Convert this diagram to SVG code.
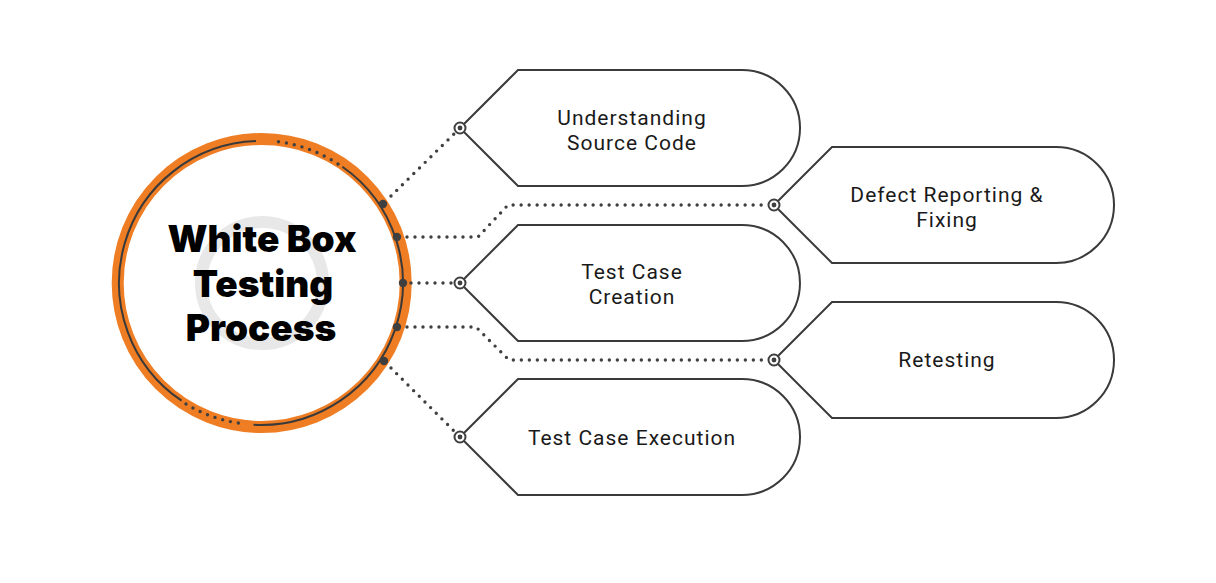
<svg xmlns="http://www.w3.org/2000/svg" width="1216" height="583" viewBox="0 0 1216 583">
<style>
.node{fill:#fff;stroke:#3a3a3a;stroke-width:2}
.lbl{font-family:Roboto,"Liberation Sans",sans-serif;font-size:21px;fill:#1a1a1a;text-anchor:middle;letter-spacing:1px}
.title{font-family:Inter,"Liberation Sans",sans-serif;font-weight:900;font-size:37px;fill:#000;text-anchor:middle}
.dots{fill:none;stroke:#3f3f3f;stroke-width:3.4;stroke-linecap:round;stroke-dasharray:0 8}
.anchor{fill:#fff;stroke:#3f3f3f;stroke-width:2}
.adot{fill:#3f3f3f}
</style>
<rect width="1216" height="583" fill="#fff"/>
<g id="hub">
<circle cx="261.7" cy="283" r="144" fill="#fff" stroke="#ee7d24" stroke-width="12"/>
<circle cx="262" cy="283" r="61" fill="none" stroke="#e8e8e8" stroke-width="12"/>
<path d="M256,141.1 A142,142 0 0 0 181.6,400.7" fill="none" stroke="#3a3a3a" stroke-width="2"/>
<path d="M253.6,424.8 A142,142 0 0 0 342.4,166.7" fill="none" stroke="#3a3a3a" stroke-width="2"/>
<path d="M186,404 A142,142 0 0 0 246,424" class="dots" stroke-width="2.6" stroke-dasharray="0 6"/>
<path d="M338,164 A142,142 0 0 0 272,141" class="dots" stroke-width="2.6" stroke-dasharray="0 6"/>
<text class="title" x="262" y="252">White Box</text>
<text class="title" x="263" y="297">Testing</text>
<text class="title" x="261" y="341">Process</text>
</g>
<g id="connectors">
<path class="dots" d="M391,196 L455,133"/>
<path class="dots" d="M407,237 L478,237 L508,205 L766,205"/>
<path class="dots" d="M411,283 L453,283"/>
<path class="dots" d="M407,327 L476,327 L509,360 L766,360"/>
<path class="dots" d="M391,368 L455,432"/>
<g class="adot">
<circle cx="383" cy="204" r="4.2"/>
<circle cx="397" cy="237" r="4.2"/>
<circle cx="403" cy="283" r="4.2"/>
<circle cx="397" cy="327" r="4.2"/>
<circle cx="384" cy="361" r="4.2"/>
</g>
</g>
<g id="node-understanding">
<path class="node" d="M460,128 L518,70 L742,70 A58,58 0 0 1 742,186 L518,186 Z"/>
<circle class="anchor" cx="460" cy="128" r="5.5"/><circle class="adot" cx="460" cy="128" r="2.4"/>
<text class="lbl" x="632" y="125">Understanding</text>
<text class="lbl" x="632" y="150">Source Code</text>
</g>
<g id="node-defect">
<path class="node" d="M774,205 L832,147 L1056,147 A58,58 0 0 1 1056,263 L832,263 Z"/>
<circle class="anchor" cx="774" cy="205" r="5.5"/><circle class="adot" cx="774" cy="205" r="2.4"/>
<text class="lbl" x="947" y="202">Defect Reporting &amp;</text>
<text class="lbl" x="947" y="227">Fixing</text>
</g>
<g id="node-creation">
<path class="node" d="M460,283 L518,225 L742,225 A58,58 0 0 1 742,341 L518,341 Z"/>
<circle class="anchor" cx="460" cy="283" r="5.5"/><circle class="adot" cx="460" cy="283" r="2.4"/>
<text class="lbl" x="632" y="279">Test Case</text>
<text class="lbl" x="632" y="304">Creation</text>
</g>
<g id="node-retesting">
<path class="node" d="M774,360 L832,302 L1056,302 A58,58 0 0 1 1056,418 L832,418 Z"/>
<circle class="anchor" cx="774" cy="360" r="5.5"/><circle class="adot" cx="774" cy="360" r="2.4"/>
<text class="lbl" x="947" y="367">Retesting</text>
</g>
<g id="node-execution">
<path class="node" d="M460,437 L518,379 L742,379 A58,58 0 0 1 742,495 L518,495 Z"/>
<circle class="anchor" cx="460" cy="437" r="5.5"/><circle class="adot" cx="460" cy="437" r="2.4"/>
<text class="lbl" x="632" y="445">Test Case Execution</text>
</g>
</svg>
